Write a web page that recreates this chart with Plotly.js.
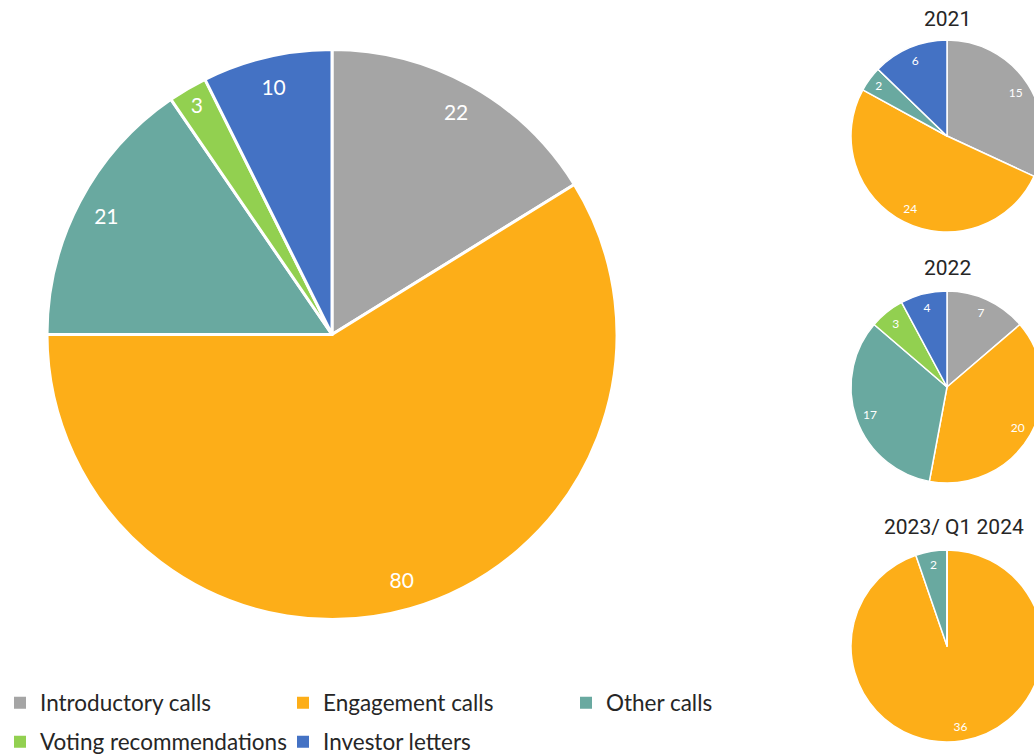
<!DOCTYPE html>
<html>
<head>
<meta charset="utf-8">
<script src="https://cdn.plot.ly/plotly-3.0.1.min.js"></script>
<style>
html,body{margin:0;padding:0;overflow:hidden;background:#fff;}
#chart{width:1100px;height:756px;}
</style>
</head>
<body>
<div id="chart"></div>
<script>
// ---- data ----
const categories = ["Introductory calls", "Engagement calls", "Other calls", "Voting recommendations", "Investor letters"];
const colors = ["#A5A5A5", "#FDAE18", "#69A9A0", "#92D050", "#4472C4"];
const totalValues = [22, 80, 21, 3, 10];
const values2021 = [15, 24, 2, 0, 6];
const values2022 = [7, 20, 17, 3, 4];
const values2023 = [0, 36, 2, 0, 0];
const smallTitles = ["2021", "2022", "2023/ Q1 2024"];

const W = 1100, H = 756;
function dom(cx, cy, r) {
  return { x: [(cx - r) / W, (cx + r) / W], y: [(H - cy - r) / H, (H - cy + r) / H] };
}

const bigDom = dom(332, 334.5, 285);
const smallDoms = [dom(947, 136, 96), dom(947, 387, 96), dom(947, 646, 96)];
const smallVals = [values2021, values2022, values2023];

function basePie(vals, d, lw) {
  return {
    type: 'pie', labels: categories, values: vals, domain: d,
    sort: false, direction: 'clockwise', rotation: 0,
    marker: { colors: colors, line: { color: '#ffffff', width: lw } },
    textinfo: 'none', showlegend: false, hoverinfo: 'label+value'
  };
}
function textRing(vals, d, hole, fs) {
  return {
    type: 'pie', labels: categories, values: vals, domain: d, hole: hole,
    sort: false, direction: 'clockwise', rotation: 0,
    marker: { colors: categories.map(() => 'rgba(0,0,0,0)'), line: { width: 0 } },
    textinfo: 'value', textposition: 'inside', insidetextorientation: 'horizontal',
    textfont: { color: '#ffffff', size: fs, family: 'Lato, sans-serif' },
    showlegend: false, hoverinfo: 'skip'
  };
}

const traces = [];
traces.push(basePie(totalValues, bigDom, 3));
smallVals.forEach((v, i) => traces.push(basePie(v, smallDoms[i], 1.5)));
traces.push(textRing(totalValues, bigDom, 0.79, 21));
smallVals.forEach((v, i) => traces.push(textRing(v, smallDoms[i], 0.7, 12)));

// legend carriers (placed off the visible page area)
const offDom = { x: [1080 / W, 1], y: [0, 20 / H] };
traces.push({
  type: 'pie', labels: categories.slice(0, 3), values: [1, 1, 1], domain: offDom,
  sort: false, marker: { colors: colors.slice(0, 3) }, textinfo: 'none',
  hoverinfo: 'skip', legend: 'legend', showlegend: true
});
traces.push({
  type: 'pie', labels: categories.slice(3), values: [1, 1], domain: offDom,
  sort: false, marker: { colors: colors.slice(3) }, textinfo: 'none',
  hoverinfo: 'skip', legend: 'legend2', showlegend: true
});

const legendCommon = {
  orientation: 'h', xanchor: 'left', yanchor: 'middle', x: 0,
  xref: 'container', yref: 'container',
  entrywidth: 238, entrywidthmode: 'pixels',
  font: { family: 'Lato, sans-serif', size: 22.5, color: '#262626' },
  bgcolor: 'rgba(0,0,0,0)', traceorder: 'normal'
};

const titleY = [19, 268, 527];
const titleX = [947, 947, 954];
const annotations = smallTitles.map((t, i) => ({
  text: t, showarrow: false, xref: 'paper', yref: 'paper',
  x: titleX[i] / W, y: (H - titleY[i]) / H, xanchor: 'center', yanchor: 'middle',
  font: { family: 'Roboto, sans-serif', size: 21, color: '#262626' }
}));

const layout = {
  width: W, height: H,
  margin: { l: 0, r: 0, t: 0, b: 0, autoexpand: false },
  paper_bgcolor: '#ffffff',
  legend: Object.assign({}, legendCommon, { y: (H - 703) / H }),
  legend2: Object.assign({}, legendCommon, { y: (H - 742) / H }),
  annotations: annotations
};

Plotly.newPlot('chart', traces, layout, { displayModeBar: false });
</script>
</body>
</html>
